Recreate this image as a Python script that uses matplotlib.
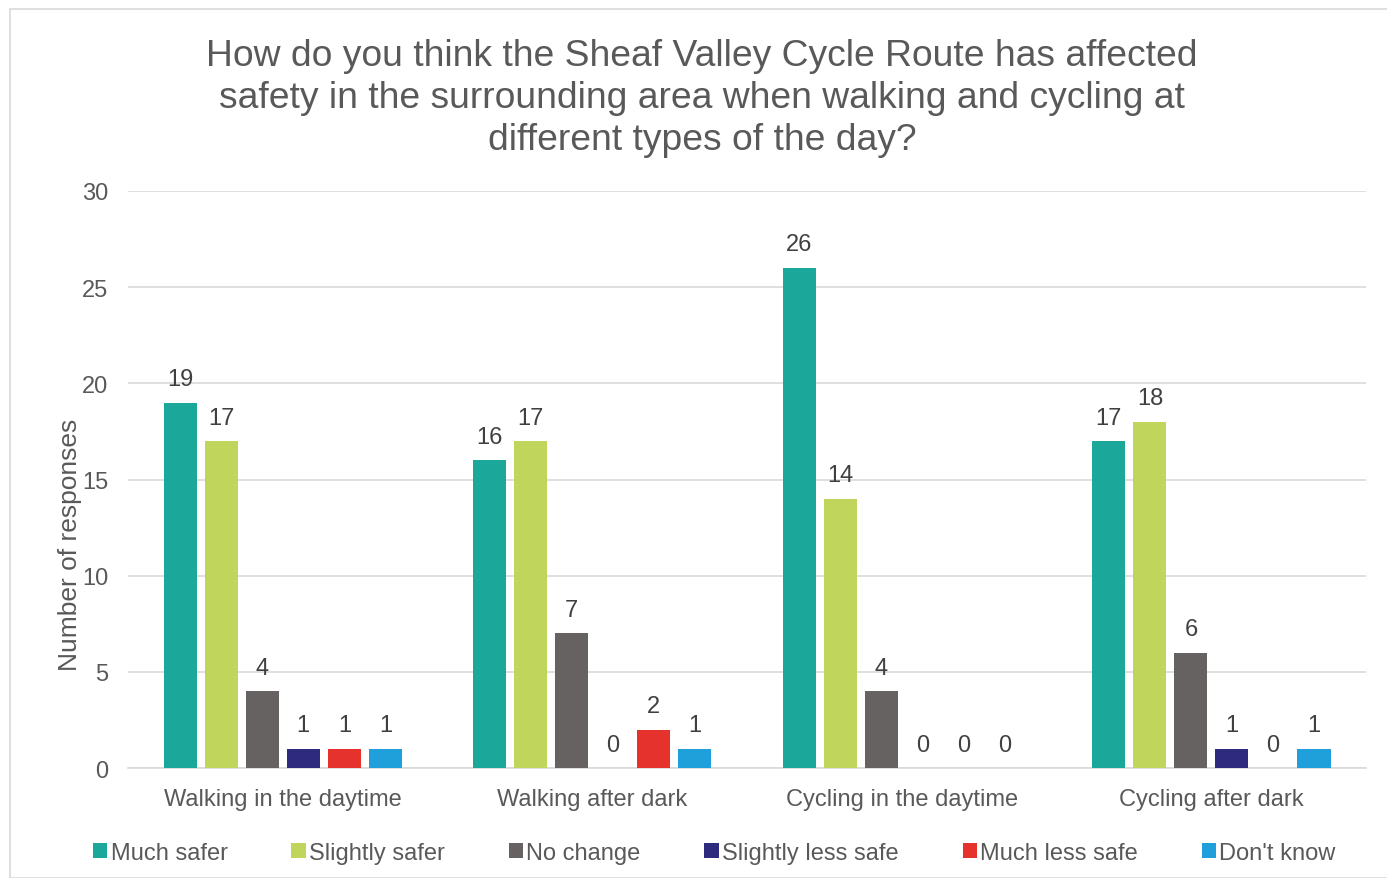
import numpy as np
import matplotlib.pyplot as plt
from matplotlib.patches import Rectangle

plt.rcParams['font.family'] = ['Liberation Sans', 'DejaVu Sans']

# categorias e respostas
grupos = ['Walking in the daytime', 'Walking after dark', 'Cycling in the daytime', 'Cycling after dark']
series = ['Much safer', 'Slightly safer', 'No change', 'Slightly less safe', 'Much less safe', "Don't know"]
much_safer = [19, 16, 26, 17]
slightly_safer = [17, 17, 14, 18]
no_change = [4, 7, 4, 6]
slightly_less = [1, 0, 0, 1]
much_less = [1, 2, 0, 0]
dont_know = [1, 1, 0, 1]
valores = [much_safer, slightly_safer, no_change, slightly_less, much_less, dont_know]
cores = ['#1BA89A', '#C0D55B', '#666261', '#2E2A7E', '#E5322D', '#1FA0DB']

fig = plt.figure(figsize=(13.87, 8.79), dpi=100)
ax = fig.add_axes([0.0923, 0.125, 0.8927, 0.6566])

# moldura cinza em volta do gráfico
fig.patches.append(Rectangle((10/1387, 0), 1.0, 1 - 10/879, transform=fig.transFigure,
                             fill=False, edgecolor='#D9D9D9', linewidth=1.2))

x = np.arange(len(grupos))
largura = 0.107
passo = 0.1325
for i, (nome, v, c) in enumerate(zip(series, valores, cores)):
  pos = x + (i - 2.5) * passo
  ax.bar(pos, v, width=largura, color=c, label=nome, zorder=3)
  for xp, val in zip(pos, v):
    ax.annotate(str(val), (xp, val), xytext=(0, 9), textcoords='offset points',
                ha='center', va='bottom', fontsize=17, color='#404040')

ax.set_xlim(-0.5, 3.5)
ax.set_ylim(0, 30)
ax.set_yticks(np.arange(0, 31, 5))
ax.set_xticks(x)
ax.set_xticklabels(grupos)
ax.tick_params(axis='both', length=0, labelsize=17, colors='#595959')
ax.tick_params(axis='x', pad=14)
ax.tick_params(axis='y', pad=14)
ax.grid(axis='y', color='#D9D9D9', linewidth=1.2, zorder=0)
for s in ['top', 'right', 'left']:
  ax.spines[s].set_visible(False)
ax.spines['bottom'].set_color('#D9D9D9')
ax.spines['bottom'].set_linewidth(1.2)

ax.set_ylabel('Number of responses', fontsize=19, color='#595959')
ax.yaxis.set_label_coords(-0.037, 0.388)

fig.suptitle('How do you think the Sheaf Valley Cycle Route has affected\n'
             'safety in the surrounding area when walking and cycling at\n'
             'different types of the day?',
             x=0.506, y=0.956, fontsize=26.8, color='#595959', linespacing=1.26, va='top')

fig.legend(loc='center', bbox_to_anchor=(0.515, 0.029), ncol=6, frameon=False,
           fontsize=17, handlelength=0.6, handleheight=0.6, handletextpad=0.15,
           columnspacing=2.7, labelcolor='#595959')

fig.savefig('out.png', dpi=100)
